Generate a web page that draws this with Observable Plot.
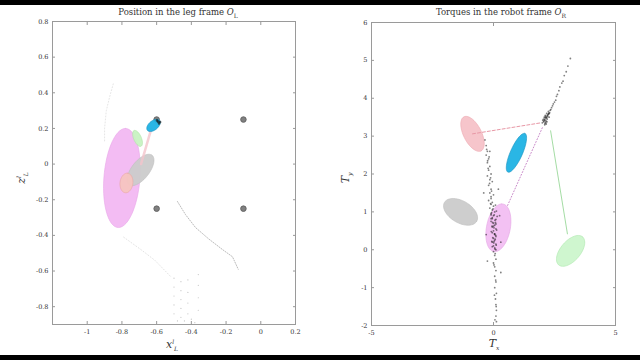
<!DOCTYPE html>
<html><head><meta charset="utf-8">
<script src="https://cdn.jsdelivr.net/npm/d3@7"></script>
<script src="https://cdn.jsdelivr.net/npm/@observablehq/plot@0.6"></script>
<style>
body{margin:0;background:#fff;}
#wrap{position:relative;width:640px;height:360px;overflow:hidden;background:#fff;font-family:"DejaVu Serif",serif;}
.bar{position:absolute;left:0;width:640px;background:#000;}
.pl{position:absolute;top:0;}
.t{position:absolute;font-size:8.5px;color:#333;white-space:nowrap;transform:translate(-50%,-50%);}
.lab{position:absolute;font-size:11px;color:#333;white-space:nowrap;font-style:italic;}
sub,sup{font-size:6px;}
</style></head>
<body><div id="wrap">
<div class="bar" style="top:0;height:5px"></div>
<div class="bar" style="top:355px;height:5px"></div>
<div id="left" class="pl" style="left:0"></div>
<div id="right" class="pl" style="left:320px"></div>
<div class="t" style="left:178px;top:13px">Position in the leg frame <i>O</i><sub>L</sub></div>
<div class="t" style="left:501px;top:13px">Torques in the robot frame <i>O</i><sub>R</sub></div>
<div class="lab" style="left:22px;top:178px;transform:translate(-50%,-50%) rotate(-90deg)">z<sup>l</sup><sub>L</sub></div>
<div class="lab" style="left:172px;top:345px;transform:translate(-50%,-50%)">x<sup>l</sup><sub>L</sub></div>
<div class="lab" style="left:346px;top:178px;transform:translate(-50%,-50%) rotate(-90deg)">T<sub>y</sub></div>
<div class="lab" style="left:494px;top:344px;transform:translate(-50%,-50%)">T<sub>x</sub></div>
</div>
<script>
// ---------- Left panel data ----------
const leftXTicks = [-1, -0.8, -0.6, -0.4, -0.2, 0, 0.2];
const leftYTicks = [-0.8, -0.6, -0.4, -0.2, 0, 0.2, 0.4, 0.6, 0.8];
const feetX = [-0.6, -0.1, -0.1, -0.6];
const feetY = [0.25, 0.25, -0.25, -0.25];
// ellipses: center, two conjugate semi-axis vectors (data units)
const leftEllName = ["magenta", "gray", "salmon", "green", "cyan"];
const leftEllCx = [-0.80, -0.693, -0.774, -0.71, -0.618];
const leftEllCy = [-0.078, -0.033, -0.106, 0.144, 0.217];
const leftEllUx = [0.02, 0.066, 0.006, -0.02, 0.035];
const leftEllUy = [0.278, 0.083, 0.055, 0.044, 0.028];
const leftEllVx = [0.104, 0.041, 0.037, 0.02, 0.017];
const leftEllVy = [0.0, -0.03, -0.003, 0.009, -0.02];
const leftEllFill = ["#f2b8f2", "#cbcbcb", "#f6c4c0", "#c8f2c2", "#1fb2e4"];
const leftEllStroke = ["#e8a4e8", "#bdbdbd", "#eaa6a2", "#aee2a6", "#1590c0"];
// dark samples near the cyan ellipse
const cyanDotsX = [-0.592, -0.586, -0.598, -0.58];
const cyanDotsY = [0.238, 0.228, 0.245, 0.236];
// faint trajectories
const trajAX = [-0.85, -0.87, -0.89, -0.9, -0.9];
const trajAY = [0.45, 0.38, 0.3, 0.2, 0.12];
const trajBX = [-0.48, -0.434, -0.376, -0.30, -0.22, -0.163, -0.13];
const trajBY = [-0.21, -0.283, -0.356, -0.42, -0.48, -0.52, -0.59];
const trajCX = [-0.79, -0.69, -0.61, -0.52];
const trajCY = [-0.41, -0.48, -0.54, -0.63];
const gridDotX = [-0.5,-0.5,-0.5,-0.5,-0.5,-0.46,-0.46,-0.46,-0.46,-0.46,-0.42,-0.42,-0.42,-0.42,-0.36,-0.36,-0.36,-0.36,-0.48,-0.44,-0.40,-0.38];
const gridDotY = [-0.64,-0.69,-0.74,-0.79,-0.84,-0.66,-0.71,-0.76,-0.81,-0.86,-0.65,-0.72,-0.78,-0.84,-0.62,-0.68,-0.75,-0.82,-0.88,-0.88,-0.87,-0.89];
const legLineX = [-0.63, -0.69];
const legLineY = [0.2, 0.0];

// ---------- Right panel data ----------
const rightXTicks = [-5, 0, 5];
const rightYTicks = [-2, -1, 0, 1, 2, 3, 4, 5, 6];
const rightEllName = ["salmon", "cyan", "gray", "magenta", "green"];
const rightEllCx = [-0.86, 0.94, -1.35, 0.2, 3.16];
const rightEllCy = [3.06, 2.56, 1.0, 0.58, -0.03];
const rightEllUx = [0.35, 0.35, 0.66, 0.12, 0.49];
const rightEllUy = [-0.45, 0.51, -0.25, 0.63, 0.37];
const rightEllVx = [0.33, 0.225, -0.225, 0.5, 0.31];
const rightEllVy = [0.105, -0.063, -0.25, 0.03, -0.17];
const rightEllFill = ["#f6c2c8", "#1fb2e4", "#cbcbcb", "#f2bef2", "#ccf5cc"];
const rightEllStroke = ["#eca6ae", "#1590c0", "#bdbdbd", "#e4a6e4", "#ade8ad"];
const torqueX = [3.15,3.05,2.98,2.9,2.85,2.8,2.72,2.68,2.62,2.58,2.55,2.5,2.45,2.42,2.38,2.35,2.32,2.3,2.28,2.25,
  2.2,2.18,2.12,2.1,2.15,2.2,2.05,2.08,2.22,2.14,2.1,2.18,2.25,2.05,2.0,2.12,2.28,2.16,
  2.1,2.17,2.23,2.07,2.13,2.19,2.02,2.26,2.11,2.15,
  -0.35,-0.3,-0.25,-0.3,-0.2,-0.25,-0.15,-0.2,-0.1,-0.25,-0.15,-0.05,-0.2,-0.1,-0.15,0.0,-0.1,-0.2,-0.05,-0.1,0.0,-0.15,-0.05,0.05,-0.1,0.0,-0.05,0.1,-0.1,0.0,0.05,-0.05,0.1,0.0,-0.05,0.05,0.1,0.0,0.05,-0.05,0.1,0.0,0.05,0.1,0.0,0.05,0.1,0.0,0.05,0.1,0.05,0.1,0.05,0.12,0.08,0.1,0.12,0.1,0.12,
  -0.12,0.08,-0.02,0.12,-0.08,0.03,0.15,-0.1,0.06,-0.04,0.1,-0.06,0.02,0.13,-0.09,0.04,0.09,-0.03,0.07,-0.07,0.01,0.11,-0.05,0.06,
  -0.18,-0.22,-0.12,-0.28,-0.08,-0.16,-0.24,-0.1,
  0.07,0.02,0.09,0.04,0.11,0.06,
  -0.4,0.25,-0.3,0.3,-0.25,0.3,-0.15,0.2,-0.05,0.0,0.05,-0.1,0.02,0.08];
const torqueY = [5.05,4.85,4.7,4.6,4.45,4.4,4.3,4.2,4.1,4.05,3.95,3.9,3.85,3.8,3.75,3.7,3.68,3.62,3.6,3.58,
  3.55,3.5,3.48,3.42,3.4,3.45,3.38,3.5,3.52,3.36,3.3,3.6,3.65,3.45,3.35,3.55,3.5,3.32,
  3.44,3.47,3.56,3.4,3.52,3.38,3.42,3.6,3.34,3.5,
  2.9,2.75,2.6,2.5,2.4,2.3,2.2,2.1,2.0,1.95,1.85,1.8,1.7,1.6,1.5,1.45,1.4,1.3,1.25,1.2,1.15,1.1,1.05,1.0,0.95,0.9,0.85,0.8,0.75,0.7,0.65,0.6,0.55,0.5,0.45,0.4,0.35,0.3,0.25,0.2,0.15,0.1,0.05,0.0,-0.05,-0.15,-0.25,-0.35,-0.45,-0.55,-0.7,-0.85,-1.0,-1.15,-1.3,-1.45,-1.6,-1.75,-1.9,
  1.22,1.18,1.08,1.02,0.98,0.92,0.88,0.82,0.78,0.72,0.68,0.62,0.58,0.52,0.48,0.42,0.38,0.32,0.28,0.22,0.18,0.12,0.08,0.02,
  2.45,2.15,1.9,2.65,1.55,1.75,2.35,1.35,
  -0.1,-0.4,-0.8,-1.2,-1.5,-1.85,
  1.5,0.9,0.4,0.2,-0.3,-0.6,2.6,1.6,0.82,0.62,0.42,0.92,0.22,0.72];
const dashX = [-0.86, 1.93];
const dashY = [3.06, 3.35];
const magLineX = [2.0, 0.57];
const magLineY = [3.22, 1.16];
const greenLineX = [2.34, 3.03];
const greenLineY = [3.14, 0.42];

// ---------- helpers ----------
function ellipse(cx, cy, ux, uy, vx, vy) {
  const pts = [];
  for (let i = 0; i <= 60; i++) {
    const t = 2 * Math.PI * i / 60;
    pts.push({x: cx + ux * Math.cos(t) + vx * Math.sin(t), y: cy + uy * Math.cos(t) + vy * Math.sin(t)});
  }
  return pts;
}
const zip = (xs, ys) => xs.map((x, i) => ({x, y: ys[i]}));
const style = {fontFamily: "DejaVu Serif, serif", fontSize: "6.5px", color: "#333", background: "transparent", overflow: "visible"};

function axes(xt, yt) {
  return [
    Plot.frame({stroke: "#9a9a9a", strokeWidth: 1}),
    Plot.axisX({ticks: xt, tickSize: -3, tickPadding: 8, label: null, tickFormat: d => String(d), stroke: "#999"}),
    Plot.axisX({anchor: "top", ticks: xt, tickSize: -3, tickFormat: () => "", label: null, stroke: "#999"}),
    Plot.axisY({ticks: yt, tickSize: -3, tickPadding: 7, label: null, tickFormat: d => String(d), stroke: "#999"}),
    Plot.axisY({anchor: "right", ticks: yt, tickSize: -3, tickFormat: () => "", label: null, stroke: "#999"})
  ];
}

// ---------- Left plot ----------
const leftMarks = [
  Plot.line(zip(trajAX, trajAY), {x: "x", y: "y", stroke: "#d4d4d4", strokeWidth: 0.6, strokeDasharray: "1,2"}),
  Plot.line(zip(trajBX, trajBY), {x: "x", y: "y", stroke: "#aaa", strokeWidth: 0.8, strokeDasharray: "1,1.5"}),
  Plot.line(zip(trajCX, trajCY), {x: "x", y: "y", stroke: "#d0d0d0", strokeWidth: 0.6, strokeDasharray: "1,2"}),
  Plot.dot(zip(gridDotX, gridDotY), {x: "x", y: "y", r: 0.6, fill: "#c4c4c4"}),
  Plot.dot(zip(feetX, feetY), {x: "x", y: "y", r: 2.8, fill: "#808080", stroke: "#5a5a5a", strokeWidth: 0.8})
];
leftEllName.forEach((n, i) => {
  leftMarks.push(Plot.line(ellipse(leftEllCx[i], leftEllCy[i], leftEllUx[i], leftEllUy[i], leftEllVx[i], leftEllVy[i]),
    {x: "x", y: "y", fill: leftEllFill[i], stroke: leftEllStroke[i], strokeWidth: 0.6, fillOpacity: 0.95}));
  if (n === "gray") leftMarks.push(Plot.line(zip(legLineX, legLineY), {x: "x", y: "y", stroke: "#f4c4cc", strokeWidth: 2.5, strokeOpacity: 0.8}));
});
leftMarks.push(Plot.dot(zip(cyanDotsX, cyanDotsY), {x: "x", y: "y", r: 1.3, fill: "#1a1a1a", fillOpacity: 0.7}));
const left = Plot.plot({
  width: 320, height: 360, marginLeft: 52, marginRight: 25, marginTop: 21, marginBottom: 36,
  x: {domain: [-1.2, 0.2]}, y: {domain: [-0.9, 0.8]}, style,
  marks: [...axes(leftXTicks, leftYTicks), ...leftMarks]
});
document.getElementById("left").append(left);

// ---------- Right plot ----------
const rightMarks = [];
rightEllName.forEach((n, i) => {
  rightMarks.push(Plot.line(ellipse(rightEllCx[i], rightEllCy[i], rightEllUx[i], rightEllUy[i], rightEllVx[i], rightEllVy[i]),
    {x: "x", y: "y", fill: rightEllFill[i], stroke: rightEllStroke[i], strokeWidth: 0.6, fillOpacity: 0.95}));
});
rightMarks.push(
  Plot.line(zip(dashX, dashY), {x: "x", y: "y", stroke: "#e898a6", strokeWidth: 1, strokeDasharray: "3,2"}),
  Plot.line(zip(magLineX, magLineY), {x: "x", y: "y", stroke: "#c27ac2", strokeWidth: 0.9, strokeDasharray: "1,2"}),
  Plot.line(zip(greenLineX, greenLineY), {x: "x", y: "y", stroke: "#9ad89a", strokeWidth: 0.9}),
  Plot.dot(zip(torqueX, torqueY), {x: "x", y: "y", r: 0.9, fill: "#1a1a1a", fillOpacity: 0.55})
);
const right = Plot.plot({
  width: 320, height: 360, marginLeft: 51, marginRight: 25, marginTop: 22, marginBottom: 35,
  x: {domain: [-5, 5]}, y: {domain: [-2, 6]}, style,
  marks: [...axes(rightXTicks, rightYTicks), ...rightMarks]
});
document.getElementById("right").append(right);
</script>
</body></html>
